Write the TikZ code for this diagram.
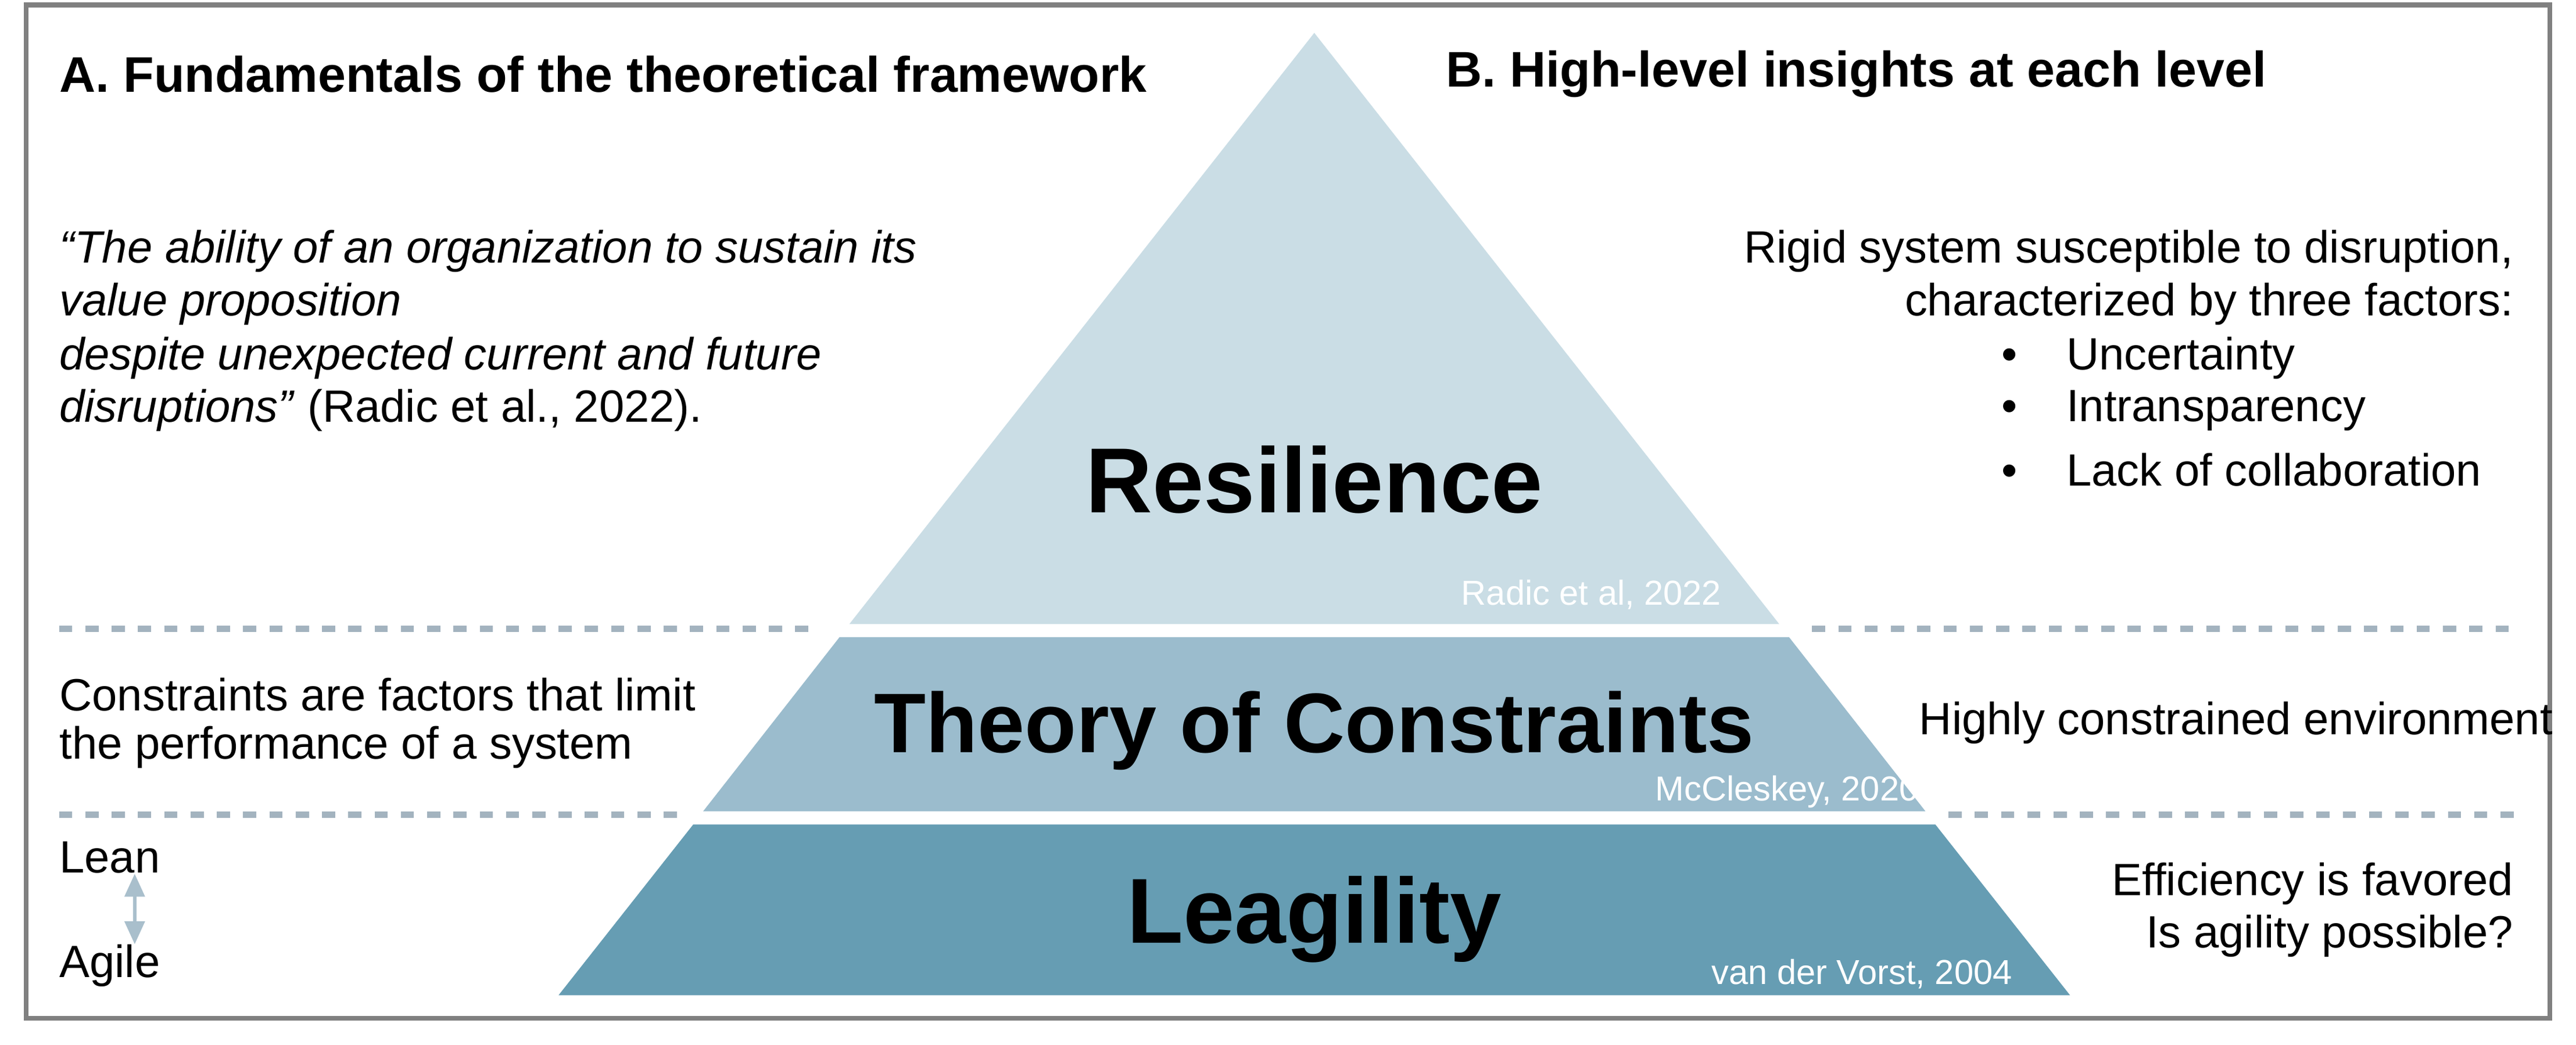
\documentclass[tikz,border=0pt]{standalone}
\usepackage{fontspec}
\setmainfont{Liberation Sans}
\usetikzlibrary{arrows.meta}
\definecolor{layerA}{HTML}{CADDE5}
\definecolor{layerB}{HTML}{9BBCCD}
\definecolor{layerC}{HTML}{669DB3}
\definecolor{dashgray}{HTML}{A3B3BF}
\definecolor{arrowblue}{HTML}{A9BFCC}
\tikzset{
  body/.style={font=\fontsize{23.5}{27}\selectfont, inner sep=0pt},
  head/.style={font=\fontsize{26}{30}\selectfont\bfseries, inner sep=0pt, anchor=west},
  level/.style={font=\fontsize{48}{52}\selectfont\bfseries, inner sep=0pt},
  cite/.style={font=\fontsize{18}{20}\selectfont, text=white, inner sep=0pt, anchor=east},
  sep/.style={dashgray, line width=1.2mm, dash pattern=on 2.4mm off 2.4mm},
}
\begin{document}
\begin{tikzpicture}[x=0.3mm,y=-0.3mm]
\useasboundingbox (0,0) rectangle (1568,636);
%\draw[help lines,step=100] (0,0) grid (1568,636);
\draw [gray, line width=0.9mm] (16,3) rectangle (1552,620);

% pyramid
\fill [layerA] (800,20) -- (1083,380) -- (517,380) -- cycle;
\fill [layerB] (511,388) -- (1089,388) -- (1172,494) -- (428,494) -- cycle;
\fill [layerC] (422,502) -- (1178,502) -- (1260,606) -- (340,606) -- cycle;
\draw [sep] (36,383) -- (493,383);
\draw [sep] (1103,383) -- (1530,383);
\draw [sep] (36,496) -- (412,496);
\draw [sep] (1186,496) -- (1530,496);

\node [level] (res) at (800,292) {Resilience};
\node [level, font=\fontsize{44}{48}\selectfont\bfseries] (toc) at (800,445) {Theory of Constraints};
\node [level] (lea) at (800,560) {Leagility};
\node [cite] (cres) at (1048,362) {Radic et al, 2022};
\node [cite] (ctoc) at (1168,482) {McCleskey, 2020};
\node [cite] (clea) at (1225,593) {van der Vorst, 2004};

% headings
\node [head] (ha) at (36,45) {A.\ Fundamentals of the theoretical framework};
\node [head] (hb) at (880,45) {B.\ High-level insights at each level};

% left column
\node [body, anchor=west] (q1) at (36,153) {\itshape “The ability of an organization to sustain its};
\node [body, anchor=west] (q2) at (36,185) {\itshape value proposition};
\node [body, anchor=west] (q3) at (36,218) {\itshape despite unexpected current and future};
\node [body, anchor=west] (q4) at (36,250) {\textit{disruptions”} (Radic et al., 2022).};
\node [body, anchor=west] (c1) at (36,423) {Constraints are factors that limit};
\node [body, anchor=west] (c2) at (36,455) {the performance of a system};
\node [body, anchor=west] (lean) at (36,522) {Lean};
\node [body, anchor=west] (agile) at (36,588) {Agile};
\coordinate (up) at (82,532);
\coordinate (down) at (82,575);
\draw [arrowblue, line width=0.7mm, {Triangle[width=3.6mm,length=4.2mm]}-{Triangle[width=3.6mm,length=4.2mm]}]
  (up) -- (down);

% right column
\node [body, anchor=east] (r1) at (1530,153) {Rigid system susceptible to disruption,};
\node [body, anchor=east] (r2) at (1530,185) {characterized by three factors:};
\node [body, anchor=west] (b1) at (1218,218) {•\hspace{9mm}Uncertainty};
\node [body, anchor=west] (b2) at (1218,250) {•\hspace{9mm}Intransparency};
\node [body, anchor=west] (b3) at (1218,286) {•\hspace{9mm}Lack of collaboration};
\node [body, anchor=west] (hc) at (1168,440) {Highly constrained environment};
\node [body, anchor=east] (e1) at (1530,538) {Efficiency is favored};
\node [body, anchor=east] (e2) at (1530,570) {Is agility possible?};
\end{tikzpicture}
\end{document}
